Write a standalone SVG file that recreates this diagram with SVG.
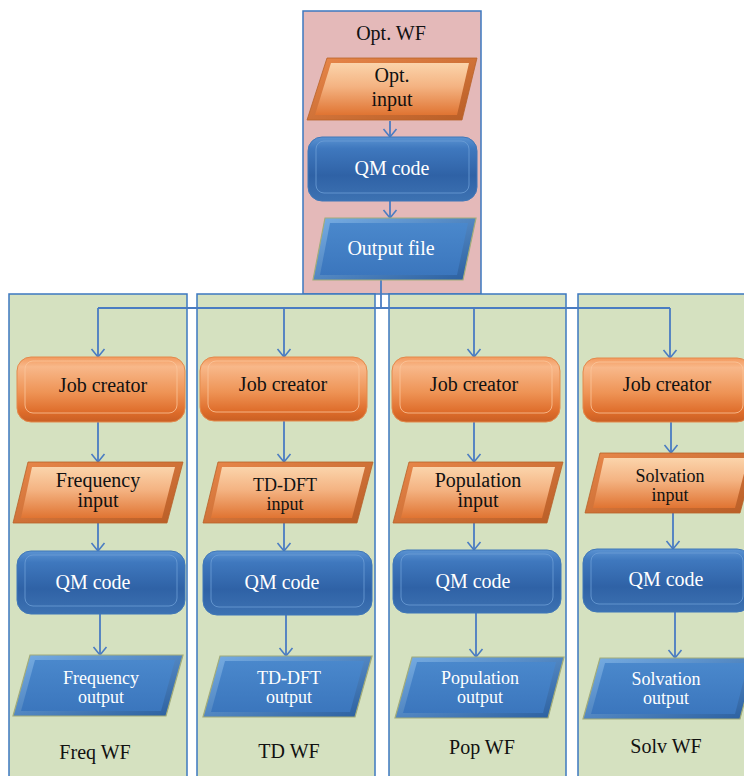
<svg xmlns="http://www.w3.org/2000/svg" width="744" height="776" viewBox="0 0 744 776">
<defs>
<style>
.panel-g{fill:#d5e1c0;stroke:#3c78c0;stroke-width:1.5}
.panel-p{fill:#e4b9b9;stroke:#3c78c0;stroke-width:1.5}
text{font-family:"Liberation Serif","DejaVu Serif","Times New Roman",serif;text-anchor:middle}
.t{font-size:20px}
.t2{font-size:18px}
.tb{fill:#111}
.tw{fill:#fff}
.job{fill:url(#gJob);stroke:#e38a4c;stroke-width:1}
.jobhl{fill:none;stroke:#fbc59b;stroke-width:1;opacity:.8}
.inO{fill:url(#gInOut);stroke:#b8622a;stroke-width:0.8}
.inI{fill:url(#gInIn)}
.qm{fill:url(#gQM);stroke:#3f77b8;stroke-width:1}
.qmhl{fill:none;stroke:#6b9ed6;stroke-width:1;opacity:.8}
.outO{fill:url(#gOutOut);stroke:#a2ac7a;stroke-width:1.2}
.outI{fill:url(#gOutIn)}
.c{fill:none;stroke:#4a7cc2;stroke-width:1.8}
.ca{fill:none;stroke:#4a7cc2;stroke-width:1.8;marker-end:url(#arr)}
</style>
<linearGradient id="gJob" x1="0" y1="0" x2="0" y2="1">
<stop offset="0" stop-color="#f39a5e"/>
<stop offset="0.15" stop-color="#f8b88a"/>
<stop offset="0.55" stop-color="#ee9355"/>
<stop offset="0.85" stop-color="#de6c2a"/>
<stop offset="1" stop-color="#c95f24"/>
</linearGradient>
<linearGradient id="gInOut" x1="0" y1="0" x2="1" y2="1">
<stop offset="0" stop-color="#e8874a"/>
<stop offset="1" stop-color="#b85d26"/>
</linearGradient>
<linearGradient id="gInIn" x1="0" y1="0" x2="0" y2="1">
<stop offset="0" stop-color="#fbd4ab"/>
<stop offset="0.45" stop-color="#f4b382"/>
<stop offset="1" stop-color="#e07432"/>
</linearGradient>
<linearGradient id="gQM" x1="0" y1="0" x2="0" y2="1">
<stop offset="0" stop-color="#5b93d2"/>
<stop offset="0.18" stop-color="#3f78be"/>
<stop offset="0.6" stop-color="#2f62a6"/>
<stop offset="1" stop-color="#3d72b2"/>
</linearGradient>
<linearGradient id="gOutOut" x1="0" y1="0" x2="1" y2="1">
<stop offset="0" stop-color="#78aee4"/>
<stop offset="1" stop-color="#2a5e9e"/>
</linearGradient>
<linearGradient id="gOutIn" x1="0" y1="0" x2="0" y2="1">
<stop offset="0" stop-color="#4a88cc"/>
<stop offset="1" stop-color="#3b76bd"/>
</linearGradient>
<marker id="arr" viewBox="-1 -8 10 16" refX="8" refY="0" markerWidth="10" markerHeight="16" markerUnits="userSpaceOnUse" orient="auto">
<path d="M0,-6.5 L8,0 L0,6.5" fill="none" stroke="#4a7cc2" stroke-width="1.6"/>
</marker>
</defs>

<g id="panel-opt">
<rect class="panel-p" x="303" y="11" width="178" height="283"/>
<text class="t tb" x="391" y="40">Opt. WF</text>
</g>
<g id="panel-freq">
<rect class="panel-g" x="9" y="294" width="178" height="490"/>
<text class="t tb" x="95" y="759">Freq WF</text>
</g>
<g id="panel-td">
<rect class="panel-g" x="197" y="294" width="178" height="490"/>
<text class="t tb" x="289" y="758">TD WF</text>
</g>
<g id="panel-pop">
<rect class="panel-g" x="389" y="294" width="177" height="490"/>
<text class="t tb" x="482" y="754">Pop WF</text>
</g>
<g id="panel-solv">
<rect class="panel-g" x="578" y="294" width="180" height="490"/>
<text class="t tb" x="666" y="753">Solv WF</text>
</g>

<g id="connectors">
<line class="ca" x1="390" y1="121" x2="390" y2="137"/>
<line class="ca" x1="390" y1="201" x2="390" y2="218"/>
<polyline class="c" points="381,280 381,308"/>
<polyline class="c" points="98,308 670,308"/>
<polyline class="ca" points="98,308 98,357"/>
<polyline class="ca" points="284,308 284,357"/>
<polyline class="ca" points="474,308 474,357"/>
<polyline class="ca" points="670,308 670,358"/>
<line class="ca" x1="98" y1="422" x2="98" y2="462"/>
<line class="ca" x1="98" y1="523" x2="98" y2="551"/>
<line class="ca" x1="100" y1="614" x2="100" y2="655"/>
<line class="ca" x1="284" y1="421" x2="284" y2="462"/>
<line class="ca" x1="284" y1="523" x2="284" y2="551"/>
<line class="ca" x1="286" y1="615" x2="286" y2="656"/>
<line class="ca" x1="474" y1="421" x2="474" y2="462"/>
<line class="ca" x1="474" y1="523" x2="474" y2="550"/>
<line class="ca" x1="476" y1="613" x2="476" y2="657"/>
<line class="ca" x1="671" y1="422" x2="671" y2="453"/>
<line class="ca" x1="673" y1="513" x2="673" y2="549"/>
<line class="ca" x1="675" y1="612" x2="675" y2="658"/>
</g>

<g id="opt-input">
<polygon class="inO" points="327,58 477,58 462,120 307,120"/>
<polygon class="inI" points="331,63 469,63 457,115 315,115"/>
<text class="t tb" x="392" y="82">Opt.</text>
<text class="t tb" x="392" y="106">input</text>
</g>
<g id="opt-qm">
<rect class="qm" x="308" y="137" width="169" height="64" rx="14"/>
<rect class="qmhl" x="316" y="141" width="153" height="52" rx="8"/>
<text class="t tw" x="392" y="175">QM code</text>
</g>
<g id="opt-output">
<polygon class="outO" points="325,218 476,218 463,280 313,280"/>
<polygon class="outI" points="330,223 468,223 457,275 320,275"/>
<text class="t tw" x="391" y="255">Output file</text>
</g>

<g id="freq-job">
<rect class="job" x="17" y="357" width="168" height="65" rx="14"/>
<rect class="jobhl" x="25" y="361" width="152" height="52" rx="8"/>
<text class="t tb" x="103" y="392">Job creator</text>
</g>
<g id="freq-input">
<polygon class="inO" points="28,462 183,462 167,523 13,523"/>
<polygon class="inI" points="32,467 175,467 162,518 21,518"/>
<text class="t tb" x="98" y="487">Frequency</text>
<text class="t tb" x="98" y="507">input</text>
</g>
<g id="freq-qm">
<rect class="qm" x="17" y="551" width="168" height="63" rx="14"/>
<rect class="qmhl" x="25" y="555" width="152" height="51" rx="8"/>
<text class="t tw" x="93" y="589">QM code</text>
</g>
<g id="freq-output">
<polygon class="outO" points="30,655 183,655 166,716 13,716"/>
<polygon class="outI" points="35,660 175,660 161,711 21,711"/>
<text class="t2 tw" x="101" y="684">Frequency</text>
<text class="t2 tw" x="101" y="703">output</text>
</g>

<g id="td-job">
<rect class="job" x="200" y="357" width="167" height="64" rx="14"/>
<rect class="jobhl" x="208" y="361" width="151" height="51" rx="8"/>
<text class="t tb" x="283" y="391">Job creator</text>
</g>
<g id="td-input">
<polygon class="inO" points="218,462 373,462 357,523 203,523"/>
<polygon class="inI" points="222,467 365,467 352,518 211,518"/>
<text class="t2 tb" x="285" y="491">TD-DFT</text>
<text class="t2 tb" x="285" y="510">input</text>
</g>
<g id="td-qm">
<rect class="qm" x="203" y="551" width="169" height="64" rx="14"/>
<rect class="qmhl" x="211" y="555" width="153" height="52" rx="8"/>
<text class="t tw" x="282" y="589">QM code</text>
</g>
<g id="td-output">
<polygon class="outO" points="220,656 372,656 355,717 203,717"/>
<polygon class="outI" points="225,661 364,661 350,712 211,712"/>
<text class="t2 tw" x="289" y="684">TD-DFT</text>
<text class="t2 tw" x="289" y="703">output</text>
</g>

<g id="pop-job">
<rect class="job" x="392" y="357" width="168" height="65" rx="14"/>
<rect class="jobhl" x="400" y="361" width="152" height="52" rx="8"/>
<text class="t tb" x="474" y="391">Job creator</text>
</g>
<g id="pop-input">
<polygon class="inO" points="409,462 563,462 547,523 393,523"/>
<polygon class="inI" points="413,467 555,467 542,518 401,518"/>
<text class="t tb" x="478" y="487">Population</text>
<text class="t tb" x="478" y="507">input</text>
</g>
<g id="pop-qm">
<rect class="qm" x="393" y="550" width="168" height="63" rx="14"/>
<rect class="qmhl" x="401" y="554" width="152" height="51" rx="8"/>
<text class="t tw" x="473" y="588">QM code</text>
</g>
<g id="pop-output">
<polygon class="outO" points="412,657 564,657 548,718 395,718"/>
<polygon class="outI" points="417,662 556,662 543,713 403,713"/>
<text class="t2 tw" x="480" y="684">Population</text>
<text class="t2 tw" x="480" y="703">output</text>
</g>

<g id="solv-job">
<rect class="job" x="583" y="358" width="168" height="64" rx="14"/>
<rect class="jobhl" x="591" y="362" width="152" height="51" rx="8"/>
<text class="t tb" x="667" y="391">Job creator</text>
</g>
<g id="solv-input">
<polygon class="inO" points="600,453 756,453 740,513 585,513"/>
<polygon class="inI" points="604,458 748,458 735,508 593,508"/>
<text class="t2 tb" x="670" y="482">Solvation</text>
<text class="t2 tb" x="670" y="501">input</text>
</g>
<g id="solv-qm">
<rect class="qm" x="583" y="549" width="168" height="63" rx="14"/>
<rect class="qmhl" x="591" y="553" width="152" height="51" rx="8"/>
<text class="t tw" x="666" y="586">QM code</text>
</g>
<g id="solv-output">
<polygon class="outO" points="600,658 756,658 740,719 583,719"/>
<polygon class="outI" points="605,663 748,663 735,714 591,714"/>
<text class="t2 tw" x="666" y="685">Solvation</text>
<text class="t2 tw" x="666" y="704">output</text>
</g>
</svg>
